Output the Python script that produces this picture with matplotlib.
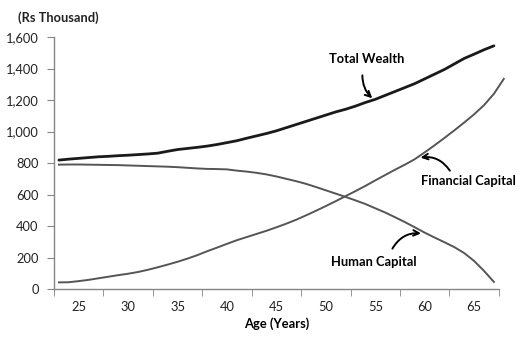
import matplotlib.pyplot as plt
import numpy as np
from matplotlib.ticker import FuncFormatter

plt.rcParams['font.family'] = ['Lato', 'DejaVu Sans']

ages = list(range(23, 68))
total_wealth = [819, 825, 830, 835, 840, 843, 847, 850, 854, 858,
                863, 875, 886, 893, 900, 908, 918, 930, 942, 958,
                973, 988, 1005, 1025, 1045, 1065, 1085, 1105, 1125, 1142,
                1162, 1185, 1205, 1230, 1255, 1280, 1305, 1335, 1365, 1395,
                1430, 1465, 1492, 1520, 1545]
human_capital = [790, 791, 791, 790, 789, 788, 787, 785, 783, 781,
                 779, 777, 774, 770, 766, 763, 762, 760, 752, 746,
                 738, 728, 715, 700, 685, 668, 648, 627, 606, 585,
                 563, 540, 513, 486, 456, 425, 392, 358, 327, 297,
                 266, 228, 178, 115, 45]
# financial capital runs one point past the axis end in the original
fc_ages = list(range(23, 69))
financial_capital = [42, 43, 50, 58, 68, 78, 88, 97, 108, 122,
                     138, 155, 173, 193, 215, 240, 263, 287, 310, 330,
                     350, 370, 392, 415, 440, 468, 497, 527, 558, 590,
                     622, 655, 690, 724, 758, 790, 825, 868, 913, 960,
                     1008, 1058, 1110, 1168, 1240, 1335]

label_ages = [25, 30, 35, 40, 45, 50, 55, 60, 65]
yticks = [0, 200, 400, 600, 800, 1000, 1200, 1400, 1600]

fig = plt.figure(figsize=(5.29, 3.41), dpi=100)
ax = fig.add_axes([0.102, 0.1525, 0.841, 0.7385])

ax.plot(ages, total_wealth, color='#1a1a1a', lw=2.0, solid_capstyle='round')
ax.plot(fc_ages, financial_capital, color='#555555', lw=1.4, clip_on=False)
ax.plot(ages, human_capital, color='#555555', lw=1.4)

ax.set_xlim(22.5, 67.5)
ax.set_ylim(0, 1600)

gray = '#868686'
for s in ['top', 'right']:
    ax.spines[s].set_visible(False)
for s in ['left', 'bottom']:
    ax.spines[s].set_color(gray)
    ax.spines[s].set_linewidth(1.0)

fs = 9.3
ax.set_yticks(yticks)
ax.yaxis.set_major_formatter(FuncFormatter(lambda v, p: '{:,.0f}'.format(v)))
ax.tick_params(axis='y', direction='out', length=5, color=gray, labelsize=fs,
               labelcolor='#222222', pad=6)

# category axis: tick marks between groups of 5, labels centred
ax.set_xticks(label_ages)
ax.set_xticks(np.arange(22.5, 68, 5), minor=True)
ax.tick_params(axis='x', which='major', length=0, labelsize=fs,
               labelcolor='#222222', pad=9)
ax.tick_params(axis='x', which='minor', direction='out', length=5, color=gray)

ax.set_xlabel('Age (Years)', fontsize=fs, fontweight='bold', labelpad=3)
fig.text(0.034, 0.948, '(Rs Thousand)', fontsize=fs, fontweight='bold',
         color='#222222', va='center')

ax.text(54.1, 1460, 'Total Wealth', fontsize=fs, fontweight='bold',
        ha='center', va='center')
ax.annotate('', xy=(54.9, 1200), xytext=(53.7, 1375),
            arrowprops=dict(arrowstyle='->', color='black', lw=1.4,
                            connectionstyle='arc3,rad=0.25'))

ax.text(64.4, 686, 'Financial Capital', fontsize=fs, fontweight='bold',
        ha='center', va='center')
ax.annotate('', xy=(59.3, 832), xytext=(62.7, 737),
            arrowprops=dict(arrowstyle='->', color='black', lw=1.4,
                            connectionstyle='arc3,rad=0.35'))

ax.text(54.9, 171, 'Human Capital', fontsize=fs, fontweight='bold',
        ha='center', va='center')
ax.annotate('', xy=(59.9, 352), xytext=(56.6, 241),
            arrowprops=dict(arrowstyle='->', color='black', lw=1.4,
                            connectionstyle='arc3,rad=-0.35'))

fig.savefig('out.png', dpi=100)
